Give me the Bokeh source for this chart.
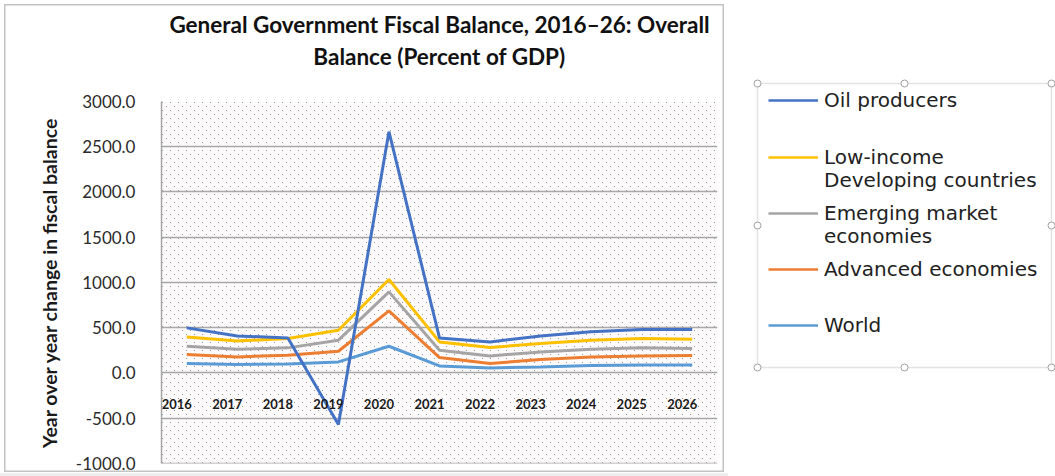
from bokeh.plotting import figure
from bokeh.layouts import row
from bokeh.models import Range1d, Legend, LegendItem, BoxAnnotation, NumeralTickFormatter, FixedTicker, Title
from bokeh.core.properties import value
from bokeh.embed import file_html
from bokeh.resources import INLINE

years = [2016, 2017, 2018, 2019, 2020, 2021, 2022, 2023, 2024, 2025, 2026]
year_labels = [str(y) for y in years]
oil_producers = [498, 409, 387, -571, 2666, 387, 343, 409, 454, 480, 480]
low_income = [398, 354, 380, 472, 1033, 343, 281, 325, 362, 380, 373]
emerging = [295, 262, 277, 362, 896, 251, 188, 232, 262, 277, 270]
advanced = [203, 177, 196, 240, 686, 170, 104, 148, 177, 188, 192]
world = [104, 93, 100, 122, 295, 77, 55, 66, 82, 88, 88]
y_ticks = [-1000, -500, 0, 500, 1000, 1500, 2000, 2500, 3000]
axis_cross = [0] * len(years)

series_names = [["Oil producers"], ["Low-income", "Developing countries"], ["Emerging market", "economies"],
                ["Advanced economies"], ["World"]]
series_colors = ["#4472C4", "#FFC000", "#A5A5A5", "#ED7D31", "#5B9BD5"]

W, H = 728, 476
FL, FR, FT, FB = 161, 717, 101, 463   # plot-frame edges in pixels

# Excel-like sparse staggered dot fill, shown through the transparent plot frame;
# white layers mask everything outside the frame, the inset shadow draws the chart border.
dot_tile = ("url(\"data:image/svg+xml;utf8,<svg xmlns='http://www.w3.org/2000/svg' width='8' height='8'>"
            "<rect x='1' y='1' width='1' height='1' fill='%23939393'/>"
            "<rect x='5' y='5' width='1' height='1' fill='%23939393'/></svg>\")")
white = "linear-gradient(white, white)"
chart_styles = {
    "background-color": "#fdfbfb",
    "background-image": ", ".join([white, white, white, white, dot_tile]),
    "background-size": f"100% {FT}px, 100% {H - FB}px, {FL}px 100%, {W - FR}px 100%, 8px 8px",
    "background-position": f"0 0, 0 {FB}px, 0 0, {FR}px 0, {FL}px {FT}px",
    "background-repeat": "no-repeat, no-repeat, no-repeat, no-repeat, repeat",
    "box-shadow": "inset 0 -3px 0 0 #eeeeee, inset 0 0 0 4px white, inset 0 0 0 5.5px #c4c4c4",
}

p = figure(width=W, height=H, title=None,
           x_range=Range1d(2015.5, 2026.5), y_range=Range1d(-1001, 3000),
           output_backend="svg", toolbar_location=None, x_axis_location=None,
           min_border_left=FL, min_border_right=W - FR, min_border_top=FT, min_border_bottom=H - FB,
           frame_align=False, styles=chart_styles)
p.background_fill_color = None
p.border_fill_color = None
p.outline_line_color = None

t2 = Title(text="Balance (Percent of GDP)", align="center", text_font="Lato", text_font_style="bold",
           text_font_size="22.5px", text_color="#111111", standoff=63)
t1 = Title(text="General Government Fiscal Balance, 2016\u201326: Overall", align="center", text_font="Lato",
           text_font_style="bold", text_font_size="22.5px", text_color="#111111", standoff=-57)
p.add_layout(t2, "above")
p.add_layout(t1, "above")

ax = p.yaxis[0]
ax.ticker = FixedTicker(ticks=y_ticks)
ax.formatter = NumeralTickFormatter(format="0.0")
ax.major_tick_line_color = None
ax.minor_tick_line_color = None
ax.axis_line_color = "#a6a6a6"
ax.axis_line_width = 1.5
ax.major_label_text_font = "Lato"
ax.major_label_text_font_size = "17px"
ax.major_label_text_color = "#2b2b2b"
ax.major_label_standoff = 20
ax.axis_label = "Year over year change in fiscal balance"
ax.axis_label_text_font = "Lato"
ax.axis_label_text_font_style = "bold"
ax.axis_label_text_font_size = "19.5px"
ax.axis_label_text_color = "#1a1a1a"
ax.axis_label_standoff = 12

p.xgrid.visible = False
p.ygrid.grid_line_color = "#a6a6a6"
p.ygrid.grid_line_width = 1.5

r_world = p.line(years, world, line_color=series_colors[4], line_width=3)
r_adv = p.line(years, advanced, line_color=series_colors[3], line_width=3)
r_em = p.line(years, emerging, line_color=series_colors[2], line_width=3)
r_low = p.line(years, low_income, line_color=series_colors[1], line_width=3)
r_oil = p.line(years, oil_producers, line_color=series_colors[0], line_width=3)

p.text(x=years, y=axis_cross, text=year_labels, x_offset=-10, y_offset=31,
       text_align="center", text_baseline="middle", text_font=value("Lato"),
       text_font_style="bold", text_font_size="13px", text_color="#1a1a1a")

# ---- legend panel (separate canvas so that it is not clipped by the chart frame)
LW, LH = 327, 476
lf = figure(width=LW, height=LH, x_range=Range1d(0, LW), y_range=Range1d(0, LH),
            output_backend="svg", toolbar_location=None, x_axis_location=None, y_axis_location=None,
            min_border=0, title=None, frame_align=False)
lf.outline_line_color = None
lf.grid.visible = False
lf.background_fill_color = "white"
lf.border_fill_color = "white"

box_l, box_r, box_t, box_b = 29, 323, LH - 83, LH - 367
lf.add_layout(BoxAnnotation(left=box_l, right=box_r, top=box_t, bottom=box_b,
                            fill_color="white", fill_alpha=1, line_color="#a6a6a6", line_width=1.5,
                            level="underlay"))

nan = float("nan")
row_centers = [[100], [157, 180], [213, 236], [269], [325]]
ITEM_H = 24
for names, col, centers in zip(series_names, series_colors, row_centers):
    for k, (nm, c) in enumerate(zip(names, centers)):
        r = lf.line([nan], [nan], line_color=col, line_width=2.5, line_alpha=1 if k == 0 else 0)
        lg = Legend(items=[LegendItem(label=nm, renderers=[r])],
                    location=(40, LH - c - ITEM_H / 2))
        lg.label_text_font = "DejaVu Sans"
        lg.label_text_font_size = "20px"
        lg.label_text_color = "#222222"
        lg.label_standoff = 6
        lg.glyph_width = 50
        lg.glyph_height = ITEM_H
        lg.label_height = ITEM_H
        lg.spacing = 0
        lg.padding = 0
        lg.margin = 0
        lg.border_line_color = None
        lg.background_fill_alpha = 0
        lf.add_layout(lg)

handle_x = [box_l, (box_l + box_r) / 2, box_r, box_l, box_r, box_l, (box_l + box_r) / 2, box_r]
handle_y = [box_t, box_t, box_t, (box_t + box_b) / 2, (box_t + box_b) / 2, box_b, box_b, box_b]
lf.scatter(handle_x, handle_y, marker="circle", size=7, fill_color="white", line_color="#a0a0a0",
           line_width=1, level="overlay")

layout = row(p, lf, spacing=0)
open("out.html", "w").write(file_html(layout, INLINE))
